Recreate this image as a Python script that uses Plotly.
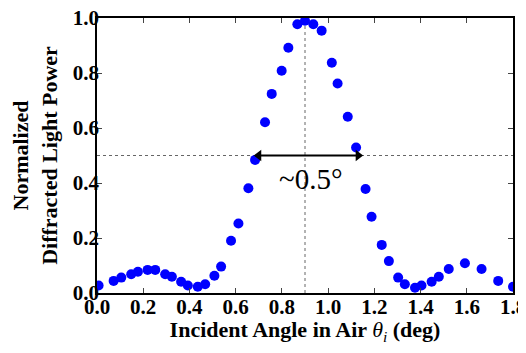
import plotly.graph_objects as go

angle = [0.007, 0.072, 0.105, 0.148, 0.177, 0.219, 0.252, 0.295, 0.324, 0.364, 0.393,
         0.436, 0.468, 0.508, 0.537, 0.580, 0.612, 0.655, 0.684, 0.727, 0.756, 0.799,
         0.828, 0.867, 0.900, 0.936, 0.972, 1.016, 1.041, 1.085, 1.121, 1.162, 1.188,
         1.232, 1.263, 1.303, 1.332, 1.376, 1.404, 1.448, 1.479, 1.522, 1.592, 1.664,
         1.736, 1.800]
power = [0.027, 0.044, 0.056, 0.068, 0.077, 0.084, 0.084, 0.068, 0.059, 0.041, 0.027,
         0.023, 0.032, 0.063, 0.096, 0.190, 0.253, 0.381, 0.484, 0.621, 0.724, 0.808,
         0.892, 0.977, 0.990, 0.977, 0.954, 0.837, 0.762, 0.641, 0.529, 0.378, 0.277,
         0.175, 0.116, 0.056, 0.032, 0.019, 0.027, 0.041, 0.059, 0.087, 0.108, 0.087,
         0.044, 0.023]

x_ticks = [0.0, 0.2, 0.4, 0.6, 0.8, 1.0, 1.2, 1.4, 1.6, 1.8]
y_ticks = [0.0, 0.2, 0.4, 0.6, 0.8, 1.0]
peak_x = 0.9
half_y = 0.5
fwhm_ends = [0.70, 1.13]

serif = "Liberation Serif, Times New Roman, serif"

fig = go.Figure()
fig.add_trace(go.Scatter(x=angle, y=power, mode="markers",
                         marker=dict(color="#0000FF", size=10, line=dict(width=0)),
                         showlegend=False))
# double-headed arrow marking the FWHM
fig.add_trace(go.Scatter(x=fwhm_ends, y=[half_y, half_y], mode="lines+markers",
                         line=dict(color="black", width=2),
                         marker=dict(symbol=["triangle-left", "triangle-right"], size=10,
                                     color="black"),
                         showlegend=False, hoverinfo="skip"))

fig.add_shape(type="line", x0=peak_x, x1=peak_x, y0=0, y1=1, xref="x", yref="y",
              line=dict(color="#666666", width=1, dash="dot"), layer="below")
fig.add_shape(type="line", x0=0, x1=1.8, y0=half_y, y1=half_y, xref="x", yref="y",
              line=dict(color="#666666", width=1, dash="dot"), layer="below")

fig.add_annotation(x=0.925, y=0.415, xref="x", yref="y", text="~0.5°", showarrow=False,
                   font=dict(family=serif, size=29, color="black"))

fig.update_xaxes(range=[0, 1.8], tickvals=x_ticks, ticktext=[f"{v:.1f}" for v in x_ticks],
                 ticks="inside", ticklen=5, tickcolor="#444", mirror="ticks",
                 showline=True, linecolor="black", linewidth=1.5, showgrid=False, zeroline=False,
                 automargin=False, ticklabelstandoff=-6, ticklabeloverflow="allow",
                 tickfont=dict(family=serif, size=21, color="black", weight="bold"),
                 title=dict(text="<b>Incident Angle in Air </b><i>θ<sub>i</sub></i><b> (deg)</b>",
                            font=dict(family=serif, size=22, color="black"), standoff=16))
fig.update_yaxes(range=[0, 1], tickvals=y_ticks, ticktext=[f"{v:.1f}" for v in y_ticks],
                 ticks="inside", ticklen=5, tickcolor="#444", mirror="ticks",
                 showline=True, linecolor="black", linewidth=1.5, showgrid=False, zeroline=False,
                 automargin=False, ticklabelstandoff=-8, ticklabeloverflow="allow",
                 tickfont=dict(family=serif, size=21, color="black", weight="bold"),
                 title=dict(text="<b>Normalized<br>Diffracted Light Power</b>",
                            font=dict(family=serif, size=22, color="black"), standoff=13))

# the page body adds an 8px offset; sizes compensate so the plot area lands at
# x 97..513, y 18..293 of the 526x353 window
fig.update_layout(width=518, height=337, margin=dict(l=89, r=13, t=10, b=52),
                  plot_bgcolor="white", paper_bgcolor="white")

fig.write_html("out.html")
